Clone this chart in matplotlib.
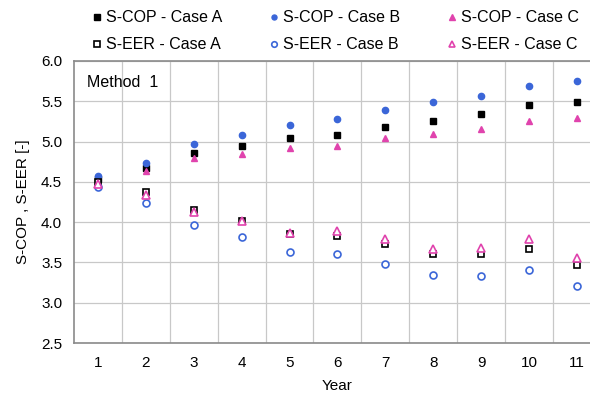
import numpy as np
import matplotlib
matplotlib.use('Agg')
import matplotlib.pyplot as plt

plt.rcParams['font.family'] = ['Liberation Sans', 'DejaVu Sans']

# seasonal performance per year, three cases
years = [1, 2, 3, 4, 5, 6, 7, 8, 9, 10, 11]
scop_a = [4.53, 4.67, 4.86, 4.94, 5.04, 5.08, 5.18, 5.25, 5.34, 5.45, 5.49]
scop_b = [4.57, 4.73, 4.97, 5.08, 5.21, 5.28, 5.39, 5.49, 5.57, 5.69, 5.75]
scop_c = [4.50, 4.63, 4.79, 4.85, 4.92, 4.95, 5.04, 5.09, 5.16, 5.26, 5.29]
seer_a = [4.50, 4.38, 4.15, 4.01, 3.85, 3.83, 3.73, 3.60, 3.60, 3.67, 3.47]
seer_b = [4.44, 4.24, 3.96, 3.81, 3.63, 3.60, 3.48, 3.35, 3.33, 3.40, 3.21]
seer_c = [4.47, 4.34, 4.13, 4.02, 3.87, 3.89, 3.79, 3.67, 3.68, 3.79, 3.56]

black = '#000000'
blue = '#3b66d8'
pink = '#e043ad'

fig = plt.figure(figsize=(5.9, 3.95), dpi=100)
ax = fig.add_axes([0.1254, 0.1316, 0.893, 0.714])

kw = dict(linestyle='none')
ax.plot(years, scop_a, marker='s', ms=5, color=black, label='S-COP - Case A', **kw)
ax.plot(years, scop_b, marker='o', ms=4.5, color=blue, label='S-COP - Case B', **kw)
ax.plot(years, scop_c, marker='^', ms=5, color=pink, label='S-COP - Case C', **kw)
ax.plot(years, seer_a, marker='s', ms=5, mfc='white', mec=black, mew=1.2,
        label='S-EER - Case A', **kw)
ax.plot(years, seer_b, marker='o', ms=5, mfc='white', mec=blue, mew=1.2,
        label='S-EER - Case B', **kw)
ax.plot(years, seer_c, marker='^', ms=5.5, mfc='white', mec=pink, mew=1.2,
        label='S-EER - Case C', **kw)

ax.set_xlim(0.5, 11.5)
ax.set_ylim(2.5, 6.0)
ax.set_xticks(years)
ax.set_yticks(np.arange(2.5, 6.01, 0.5))
ax.set_yticklabels(['%.1f' % v for v in np.arange(2.5, 6.01, 0.5)])
ax.set_xticks(np.arange(1.5, 11.0, 1), minor=True)
ax.grid(False)
ax.grid(True, which='minor', axis='x', color='#c8c8c8', lw=0.9)
ax.grid(True, which='major', axis='y', color='#c8c8c8', lw=0.9)
ax.tick_params(which='both', length=0, labelsize=11)
ax.tick_params(axis='x', pad=9.5)
ax.tick_params(axis='y', pad=8.5)
for s in ax.spines.values():
    s.set_color('#8a8a8a')
    s.set_linewidth(1.2)

ax.set_xlabel('Year', fontsize=11, labelpad=6)
ax.set_ylabel('S-COP , S-EER [-]', fontsize=11, labelpad=8)
ax.text(0.025, 0.925, 'Method  1', transform=ax.transAxes, fontsize=11.5,
        va='center', ha='left')

# reorder so rows read COP then EER
h, l = ax.get_legend_handles_labels()
order = [0, 3, 1, 4, 2, 5]
fig.legend([h[i] for i in order], [l[i] for i in order], ncol=3,
           loc='upper left', bbox_to_anchor=(0.1265, 1.01), frameon=False,
           fontsize=11.5, handletextpad=0.05, columnspacing=2.75,
           handlelength=1.0, labelspacing=0.75, markerscale=0.8)

fig.savefig('out.png', dpi=100)
